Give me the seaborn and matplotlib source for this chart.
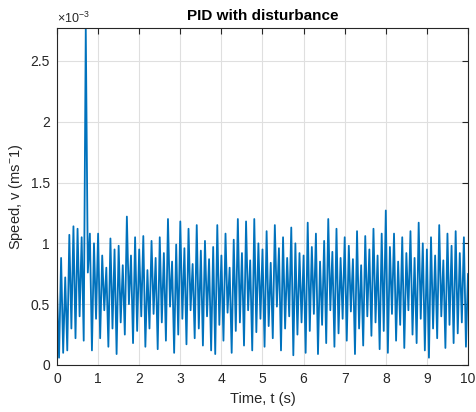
import numpy as np
import pandas as pd
import matplotlib
matplotlib.use("Agg")
import matplotlib.pyplot as plt
import seaborn as sns
from matplotlib.ticker import FuncFormatter

# time axis (s), sample step 0.05 s
t_start, t_end, t_step = 0.0, 10.0, 0.05

# speed values in units of 1e-3 m/s
speed_e3 = [
    0.63, 0.06, 0.88, 0.10, 0.72, 0.12, 1.07, 0.30, 1.14, 0.22, 1.12, 0.40, 1.05, 0.20, 2.77, 0.76, 1.08, 0.12, 1.00, 0.38,
    1.08, 0.22, 0.90, 0.45, 0.80, 0.15, 1.04, 0.30, 0.95, 0.09, 0.98, 0.35, 0.82, 0.25, 1.22, 0.50, 0.90, 0.18, 1.05, 0.28,
    0.95, 0.40, 1.06, 0.15, 0.78, 0.30, 1.02, 0.42, 0.88, 0.13, 1.05, 0.35, 0.92, 0.20, 1.20, 0.48, 0.85, 0.10, 0.99, 0.25,
    1.18, 0.38, 0.96, 0.17, 1.12, 0.45, 0.83, 0.22, 1.15, 0.30, 0.94, 0.16, 1.02, 0.40, 0.87, 0.12, 0.97, 0.09, 1.15, 0.33,
    0.90, 0.20, 1.08, 0.43, 0.80, 0.10, 1.03, 0.28, 1.20, 0.35, 0.92, 0.16, 1.18, 0.45, 0.86, 0.12, 1.20, 0.27, 1.00, 0.38,
    0.95, 0.15, 1.10, 0.32, 0.84, 0.22, 1.15, 0.48, 0.96, 0.12, 1.05, 0.30, 0.88, 0.40, 1.13, 0.08, 1.00, 0.25, 0.92, 0.35,
    0.90, 0.10, 1.17, 0.28, 0.97, 0.42, 1.08, 0.09, 0.85, 0.33, 1.02, 0.18, 1.20, 0.45, 0.93, 0.15, 1.12, 0.26, 0.88, 0.38,
    1.05, 0.20, 0.98, 0.44, 0.87, 0.09, 1.10, 0.30, 0.82, 0.16, 1.06, 0.40, 0.95, 0.24, 1.12, 0.35, 0.90, 0.13, 1.08, 0.28,
    1.27, 0.10, 0.97, 0.42, 1.08, 0.20, 0.85, 0.33, 1.05, 0.14, 0.92, 0.45, 1.10, 0.25, 0.88, 0.18, 1.17, 0.38, 1.00, 0.12,
    0.95, 0.06, 1.05, 0.30, 0.90, 0.22, 1.15, 0.40, 0.86, 0.14, 1.08, 0.33, 0.98, 0.18, 1.10, 0.26, 0.92, 0.35, 1.05, 0.15, 0.75,
]

x_ticks = [0, 1, 2, 3, 4, 5, 6, 7, 8, 9, 10]
y_ticks_e3 = [0, 0.5, 1, 1.5, 2, 2.5]

title = "PID with disturbance"
xlabel = "Time, t (s)"
ylabel = r"Speed, v (ms$^{-}$1)"

t = np.round(np.arange(len(speed_e3)) * t_step + t_start, 4)
df = pd.DataFrame({"t": t, "v": np.array(speed_e3) * 1e-3})

sns.set_style("white")
plt.rcParams["font.family"] = ["Liberation Sans", "DejaVu Sans"]
plt.rcParams["mathtext.fontset"] = "custom"
plt.rcParams["mathtext.rm"] = "Liberation Sans"
plt.rcParams["mathtext.it"] = "Liberation Sans"

fig = plt.figure(figsize=(4.77, 4.12), dpi=100)
ax = fig.add_axes([57 / 477, 1 - 365 / 412, (468 - 57) / 477, (365 - 28) / 412])

sns.lineplot(data=df, x="t", y="v", ax=ax, color="#0072BD", linewidth=1.3,
             estimator=None, sort=False)

ax.set_xlim(t_start, t_end)
ax.set_ylim(0, max(speed_e3) * 1e-3)
ax.set_xticks(x_ticks)
ax.set_yticks([v * 1e-3 for v in y_ticks_e3])
ax.xaxis.set_major_formatter(FuncFormatter(lambda v, p: f"{v:g}"))
ax.yaxis.set_major_formatter(FuncFormatter(lambda v, p: f"{round(v * 1e3, 3):g}"))

edge = "#262626"
ax.grid(True, color="#dfdfdf", linewidth=0.8)
ax.set_axisbelow(True)
for s in ax.spines.values():
    s.set_color(edge)
    s.set_linewidth(0.8)
ax.tick_params(direction="in", length=4, width=0.8, color=edge, labelcolor=edge,
               labelsize=10, top=True, right=True, pad=5)

ax.set_title(title, fontsize=11, fontweight="bold", color="black", pad=6)
ax.set_xlabel(xlabel, fontsize=10.5, color=edge, labelpad=4)
ax.set_ylabel(ylabel, fontsize=10.5, color=edge, labelpad=4)
ax.text(0.0, 1.005, r"$\times$10$^{-3}$", transform=ax.transAxes, fontsize=9,
        color=edge, ha="left", va="bottom")

fig.savefig("out.png", dpi=100)
